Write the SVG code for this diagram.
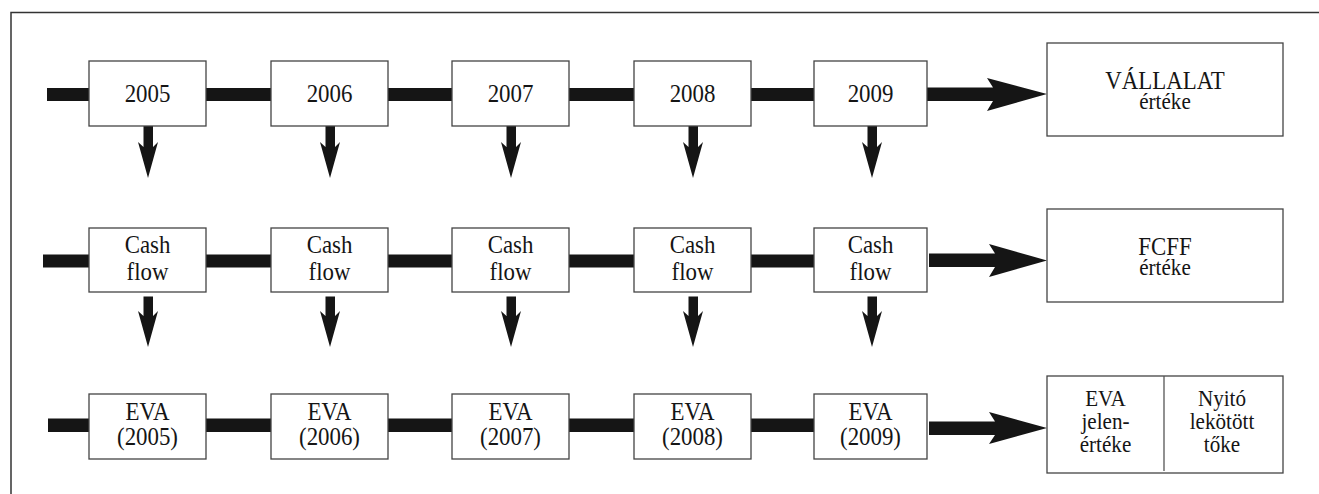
<svg xmlns="http://www.w3.org/2000/svg" width="1319" height="494" viewBox="0 0 1319 494">
<style>
.frame{fill:none;stroke:#333;stroke-width:1.5}
.box{fill:#fff;stroke:#444;stroke-width:1.3}
.bar{fill:#151515;stroke:none}
text{font-family:'Liberation Serif','Times New Roman','DejaVu Serif',serif;fill:#151515;text-anchor:middle}
.t{font-size:26px}
.s{font-size:24px}
</style>
<rect width="1319" height="494" fill="#fff"/>
<path class="frame" d="M11,494 V12.5 H1319"/>

<g id="connectors">
  <rect class="bar" x="47" y="88" width="42" height="13"/>
  <rect class="bar" x="206" y="88" width="65" height="13"/>
  <rect class="bar" x="388" y="88" width="64" height="13"/>
  <rect class="bar" x="569" y="88" width="65" height="13"/>
  <rect class="bar" x="751" y="88" width="63" height="13"/>
  <polygon class="bar" points="927,87.5 993,87.5 987,78 1047,94 987,111 993,101 927,101"/>
  <rect class="bar" x="43" y="254.5" width="46" height="13"/>
  <rect class="bar" x="206" y="254.5" width="65" height="13"/>
  <rect class="bar" x="388" y="254.5" width="64" height="13"/>
  <rect class="bar" x="569" y="254.5" width="65" height="13"/>
  <rect class="bar" x="751" y="254.5" width="63" height="13"/>
  <polygon class="bar" points="929,253.5 995,253.5 989,244 1047,260.5 989,277 995,267 929,267"/>
  <rect class="bar" x="48" y="418.5" width="41" height="13.5"/>
  <rect class="bar" x="206" y="418.5" width="65" height="13.5"/>
  <rect class="bar" x="388" y="418.5" width="64" height="13.5"/>
  <rect class="bar" x="569" y="418.5" width="65" height="13.5"/>
  <rect class="bar" x="751" y="418.5" width="63" height="13.5"/>
  <polygon class="bar" points="929,421.5 995,421.5 989,412 1047,428 989,444 995,435 929,435"/>
  <polygon class="bar" points="143.5,126 153,126 153,147 158,142 148,178 138,142 143.5,147"/>
  <polygon class="bar" points="325.5,126 335,126 335,147 340,142 330,178 320,142 325.5,147"/>
  <polygon class="bar" points="506.5,126 516,126 516,147 521,142 511,178 501,142 506.5,147"/>
  <polygon class="bar" points="688.5,126 698,126 698,147 703,142 693,178 683,142 688.5,147"/>
  <polygon class="bar" points="867.5,126 877,126 877,147 882,142 872,178 862,142 867.5,147"/>
  <polygon class="bar" points="143.5,296.5 153,296.5 153,316 158,311 148,347 138,311 143.5,316"/>
  <polygon class="bar" points="325.5,296.5 335,296.5 335,316 340,311 330,347 320,311 325.5,316"/>
  <polygon class="bar" points="506.5,296.5 516,296.5 516,316 521,311 511,347 501,311 506.5,316"/>
  <polygon class="bar" points="688.5,296.5 698,296.5 698,316 703,311 693,347 683,311 688.5,316"/>
  <polygon class="bar" points="867.5,296.5 877,296.5 877,316 882,311 872,347 862,311 867.5,316"/>
</g>

<g id="y2005"><rect class="box" x="89" y="61" width="117" height="65"/><text class="t" transform="translate(147.5,102) scale(0.88,1)">2005</text></g>
<g id="y2006"><rect class="box" x="271" y="61" width="117" height="65"/><text class="t" transform="translate(329.5,102) scale(0.88,1)">2006</text></g>
<g id="y2007"><rect class="box" x="452" y="61" width="117" height="65"/><text class="t" transform="translate(510.5,102) scale(0.88,1)">2007</text></g>
<g id="y2008"><rect class="box" x="634" y="61" width="117" height="65"/><text class="t" transform="translate(692.5,102) scale(0.88,1)">2008</text></g>
<g id="y2009"><rect class="box" x="814" y="61" width="113" height="65"/><text class="t" transform="translate(870.5,102) scale(0.88,1)">2009</text></g>
<g id="vallalat"><rect class="box" x="1047" y="43" width="236" height="93"/>
  <text class="t" transform="translate(1165,89) scale(0.88,1)">VÁLLALAT</text>
  <text class="s" transform="translate(1165,109) scale(0.88,1)">értéke</text></g>

<g id="cf2005"><rect class="box" x="89" y="228" width="117" height="64"/><text class="t" transform="translate(147.5,253) scale(0.88,1)">Cash</text><text class="t" transform="translate(147.5,280) scale(0.88,1)">flow</text></g>
<g id="cf2006"><rect class="box" x="271" y="228" width="117" height="64"/><text class="t" transform="translate(329.5,253) scale(0.88,1)">Cash</text><text class="t" transform="translate(329.5,280) scale(0.88,1)">flow</text></g>
<g id="cf2007"><rect class="box" x="452" y="228" width="117" height="64"/><text class="t" transform="translate(510.5,253) scale(0.88,1)">Cash</text><text class="t" transform="translate(510.5,280) scale(0.88,1)">flow</text></g>
<g id="cf2008"><rect class="box" x="634" y="228" width="117" height="64"/><text class="t" transform="translate(692.5,253) scale(0.88,1)">Cash</text><text class="t" transform="translate(692.5,280) scale(0.88,1)">flow</text></g>
<g id="cf2009"><rect class="box" x="814" y="228" width="113" height="64"/><text class="t" transform="translate(870.5,253) scale(0.88,1)">Cash</text><text class="t" transform="translate(870.5,280) scale(0.88,1)">flow</text></g>
<g id="fcff"><rect class="box" x="1047" y="209" width="236" height="93"/>
  <text class="t" transform="translate(1165,255) scale(0.88,1)">FCFF</text>
  <text class="s" transform="translate(1165,275) scale(0.88,1)">értéke</text></g>

<g id="eva2005"><rect class="box" x="89" y="394" width="117" height="65"/><text class="t" transform="translate(147.5,420) scale(0.88,1)">EVA</text><text class="t" transform="translate(147.5,445) scale(0.88,1)">(2005)</text></g>
<g id="eva2006"><rect class="box" x="271" y="394" width="117" height="65"/><text class="t" transform="translate(329.5,420) scale(0.88,1)">EVA</text><text class="t" transform="translate(329.5,445) scale(0.88,1)">(2006)</text></g>
<g id="eva2007"><rect class="box" x="452" y="394" width="117" height="65"/><text class="t" transform="translate(510.5,420) scale(0.88,1)">EVA</text><text class="t" transform="translate(510.5,445) scale(0.88,1)">(2007)</text></g>
<g id="eva2008"><rect class="box" x="634" y="394" width="117" height="65"/><text class="t" transform="translate(692.5,420) scale(0.88,1)">EVA</text><text class="t" transform="translate(692.5,445) scale(0.88,1)">(2008)</text></g>
<g id="eva2009"><rect class="box" x="814" y="394" width="113" height="65"/><text class="t" transform="translate(870.5,420) scale(0.88,1)">EVA</text><text class="t" transform="translate(870.5,445) scale(0.88,1)">(2009)</text></g>
<g id="evatotal"><rect class="box" x="1047" y="376" width="236" height="97"/>
  <line x1="1164" y1="376" x2="1164" y2="471" stroke="#555" stroke-width="1.3"/>
  <text class="s" transform="translate(1105.5,406) scale(0.88,1)">EVA</text>
  <text class="s" transform="translate(1105.5,429) scale(0.88,1)">jelen-</text>
  <text class="s" transform="translate(1105.5,452) scale(0.88,1)">értéke</text>
  <text class="s" transform="translate(1222,406) scale(0.88,1)">Nyitó</text>
  <text class="s" transform="translate(1222,429) scale(0.88,1)">lekötött</text>
  <text class="s" transform="translate(1222,452) scale(0.88,1)">tőke</text></g>
</svg>
